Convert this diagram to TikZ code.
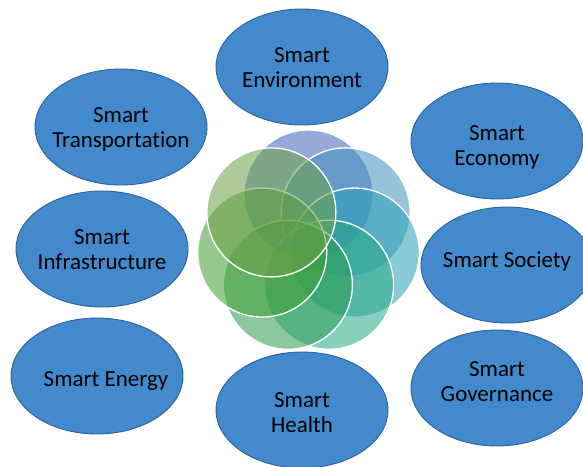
\documentclass[tikz,border=0pt]{standalone}
\usepackage{fontspec}
\setmainfont{Carlito}[Ligatures=NoCommon]
\usetikzlibrary{shapes.geometric}

% ellipse colours
\definecolor{bubblefill}{RGB}{66,138,204}
\definecolor{bubbleedge}{RGB}{44,98,158}
% ring of overlapping circles, from blue to green
\definecolor{ringA}{RGB}{65,101,189}
\definecolor{ringB}{RGB}{65,145,189}
\definecolor{ringC}{RGB}{40,160,182}
\definecolor{ringD}{RGB}{40,168,135}
\definecolor{ringE}{RGB}{45,155,80}
\definecolor{ringF}{RGB}{65,158,50}
\definecolor{ringG}{RGB}{110,160,70}

\tikzset{
  bubble/.style={ellipse, draw=bubbleedge, line width=0.9pt, fill=bubblefill,
    minimum width=172pt, minimum height=116pt, inner sep=0pt},
  bubbletext/.style={align=center, inner sep=0pt, text=black,
    font=\fontsize{23}{25}\selectfont},
  petal/.style={circle, minimum size=129pt, inner sep=0pt, fill opacity=0.55,
    draw=white, draw opacity=1, line width=1.3pt},
}

\begin{document}
\begin{tikzpicture}[x=1pt, y=-1pt]
  \clip (0,0) rectangle (583,466);
  \fill[white] (0,0) rectangle (583,466);

  % seven overlapping circles on a ring, drawn clockwise from the top
  \coordinate (hub) at (308.5,242);
  \foreach \k/\ang/\col in {1/90/ringA, 2/38.57/ringB, 3/-12.86/ringC,
      4/-64.29/ringD, 5/-115.71/ringE, 6/-167.14/ringF, 7/141.43/ringG}{
    \node[petal, fill=\col] (petal\k) at ([shift={(\ang:47.5pt)}]hub) {};
  }

  % the eight topic ellipses
  \node[bubble] (env)   at (302,67)  {};
  \node[bubble] (trans) at (121,127) {};
  \node[bubble] (econ)  at (497,141) {};
  \node[bubble] (infra) at (102,249) {};
  \node[bubble] (soc)   at (507,265) {};
  \node[bubble] (enrg)  at (97,376)  {};
  \node[bubble] (gov)   at (497,388) {};
  \node[bubble] (hlth)  at (302,410) {};

  % labels (shifts are in page directions: positive yshift goes up)
  \node[bubbletext] (envT)   at ([yshift=-0.5pt]env.center)        {Smart\\Environment};
  \node[bubbletext] (transT) at ([yshift=-2pt]trans.center)        {Smart\\Transportation};
  \node[bubbletext] (econT)  at ([yshift=-6pt]econ.center)         {Smart\\Economy};
  \node[bubbletext] (infraT) at ([yshift=-0.5pt]infra.center)      {Smart\\Infrastructure};
  \node[bubbletext] (socT)   at ([yshift=4pt]soc.center)           {Smart Society};
  \node[bubbletext] (enrgT)  at ([xshift=9pt,yshift=-5pt]enrg.center) {Smart Energy};
  \node[bubbletext] (govT)   at ([yshift=6.5pt]gov.center)         {Smart\\Governance};
  \node[bubbletext] (hlthT)  at ([yshift=-2.5pt]hlth.center)       {Smart\\Health};
\end{tikzpicture}
\end{document}
